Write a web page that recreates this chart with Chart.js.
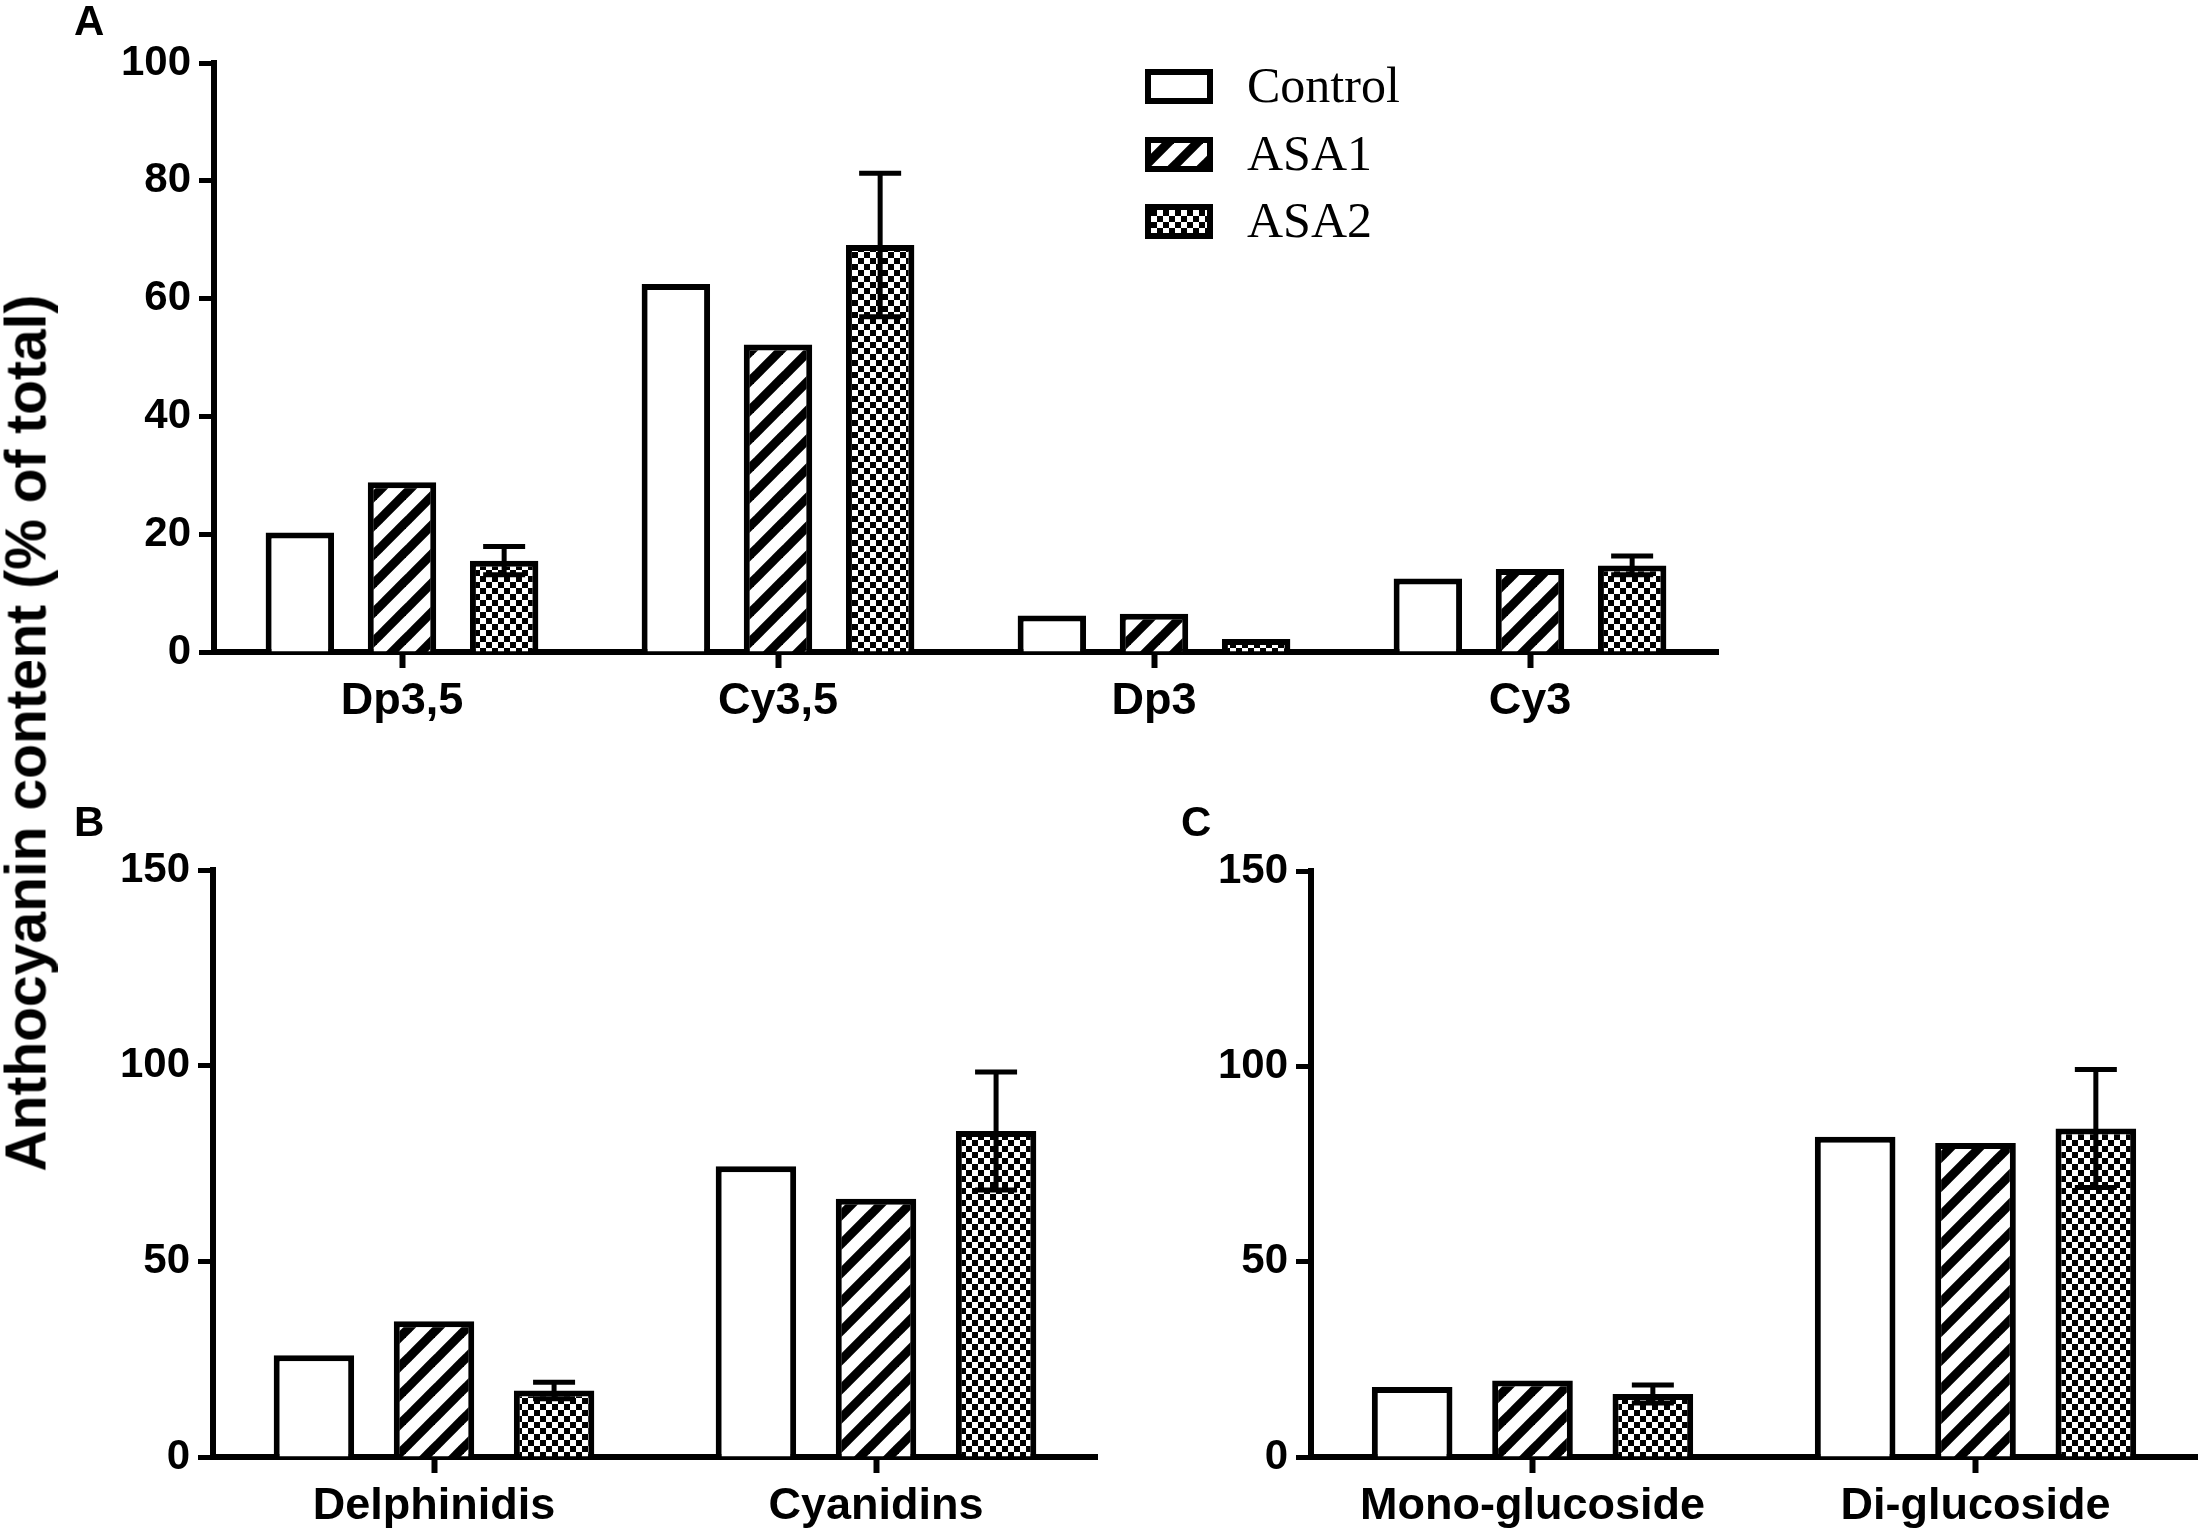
<!DOCTYPE html>
<html><head><meta charset="utf-8">
<script src="https://cdn.jsdelivr.net/npm/chart.js@4.4.1/dist/chart.umd.min.js"></script>
<style>
html,body{margin:0;padding:0;background:#fff;}
body{width:2205px;height:1536px;position:relative;overflow:hidden;font-family:"Liberation Sans",Arial,sans-serif;color:#000;}
canvas.chart{position:absolute;}
.pl{position:absolute;font-weight:bold;font-size:42px;line-height:42px;}
#ytitle{position:absolute;left:26px;top:733px;transform:translate(-50%,-50%) rotate(-90deg);font-weight:bold;font-size:57px;line-height:57px;white-space:nowrap;}
.lg-sw{position:absolute;}
.lg-tx{position:absolute;font-family:"Liberation Serif","Times New Roman",serif;font-size:50px;line-height:50px;white-space:nowrap;}
</style>
</head><body>
<canvas id="cA" class="chart"></canvas>
<canvas id="cB" class="chart"></canvas>
<canvas id="cC" class="chart"></canvas>
<div class="pl" style="left:74px;top:0px;">A</div>
<div class="pl" style="left:74px;top:801px;">B</div>
<div class="pl" style="left:1181px;top:801px;">C</div>
<div id="ytitle">Anthocyanin content (% of total)</div>
<div id="legend"></div>
<script>
// ---------- data ----------
const seriesNames = ['Control', 'ASA1', 'ASA2'];

const catsA = ['Dp3,5', 'Cy3,5', 'Dp3', 'Cy3'];
const controlA = [20.3, 62.5, 6.2, 12.5];
const asa1A = [28.8, 52.2, 6.5, 14.1];
const asa2A = [15.5, 69.1, 2.2, 14.7];
const asa2ErrA = [2.4, 12.2, 0, 1.6];
const yTicksA = [0, 20, 40, 60, 80, 100];

const catsB = ['Delphinidis', 'Cyanidins'];
const controlB = [26.0, 74.3];
const asa1B = [34.7, 66.0];
const asa2B = [17.0, 83.3];
const asa2ErrB = [2.1, 15.1];
const yTicksB = [0, 50, 100, 150];

const catsC = ['Mono-glucoside', 'Di-glucoside'];
const controlC = [17.9, 82.0];
const asa1C = [19.6, 80.4];
const asa2C = [16.1, 84.1];
const asa2ErrC = [2.3, 15.1];
const yTicksC = [0, 50, 100, 150];

// ---------- patterns ----------
function hatchTile() {
  const s = 29, c = document.createElement('canvas');
  c.width = s; c.height = s;
  const g = c.getContext('2d');
  g.fillStyle = '#fff'; g.fillRect(0, 0, s, s);
  g.strokeStyle = '#000'; g.lineWidth = 9; g.lineCap = 'butt';
  for (let k = -1; k <= 1; k++) {
    g.beginPath(); g.moveTo(k * s - 3, s + 3); g.lineTo(k * s + s + 3, -3); g.stroke();
  }
  return c;
}
function checkerTile() {
  const s = 12, h = 6, c = document.createElement('canvas');
  c.width = s; c.height = s;
  const g = c.getContext('2d');
  g.fillStyle = '#fff'; g.fillRect(0, 0, s, s);
  g.fillStyle = '#000'; g.fillRect(0, 0, h, h); g.fillRect(h, h, h, h);
  return c;
}
const tmpCtx = document.createElement('canvas').getContext('2d');
const fills = ['#ffffff', tmpCtx.createPattern(hatchTile(), 'repeat'), tmpCtx.createPattern(checkerTile(), 'repeat')];

// ---------- error bar plugin ----------
const errorBars = {
  id: 'errorBars',
  afterDatasetsDraw(chart) {
    const ctx = chart.ctx, y = chart.scales.y;
    chart.data.datasets.forEach((ds, di) => {
      if (!ds.errors) return;
      const meta = chart.getDatasetMeta(di);
      meta.data.forEach((bar, i) => {
        const e = ds.errors[i];
        if (!e) return;
        const v = ds.data[i];
        const yt = y.getPixelForValue(v + e), yb = y.getPixelForValue(v - e);
        const x = bar.x, hw = 21;
        ctx.save();
        ctx.strokeStyle = '#000'; ctx.lineWidth = 5; ctx.lineCap = 'butt';
        ctx.beginPath();
        ctx.moveTo(x, yt); ctx.lineTo(x, yb);
        ctx.moveTo(x - hw, yt); ctx.lineTo(x + hw, yt);
        ctx.moveTo(x - hw, yb); ctx.lineTo(x + hw, yb);
        ctx.stroke();
        ctx.restore();
      });
    });
  }
};

const FONT = '"Liberation Sans", Arial, sans-serif';

function makeChart(id, cats, ctrl, a1, a2, err, yTicks, box) {
  const cv = document.getElementById(id);
  cv.width = box.width; cv.height = box.height;
  cv.style.left = box.left + 'px'; cv.style.top = box.top + 'px';
  cv.style.width = box.width + 'px'; cv.style.height = box.height + 'px';
  const vals = [ctrl, a1, a2];
  const datasets = seriesNames.map((n, i) => ({
    label: n,
    data: vals[i],
    errors: i === 2 ? err : null,
    backgroundColor: fills[i],
    borderColor: '#000',
    borderWidth: 6,
    borderSkipped: 'start',
    categoryPercentage: 0.815,
    barPercentage: 0.67
  }));
  const yMax = yTicks[yTicks.length - 1];
  return new Chart(cv, {
    type: 'bar',
    data: { labels: cats, datasets },
    options: {
      responsive: false,
      animation: false,
      devicePixelRatio: 1,
      layout: { padding: { top: box.areaTop - box.top, right: box.left + box.width - box.areaRight, left: 0, bottom: 0 } },
      plugins: { legend: { display: false }, tooltip: { enabled: false } },
      scales: {
        x: {
          z: 1,
          offset: true,
          grid: { display: true, drawOnChartArea: false, drawTicks: true, offset: false, tickLength: 16, tickWidth: 6, tickColor: '#000' },
          border: { display: true, width: 6, color: '#000' },
          ticks: { color: '#000', font: { family: FONT, size: 45, weight: 'bold' }, padding: 7, maxRotation: 0 },
          afterFit(s) { s.height = box.top + box.height - box.areaBottom; }
        },
        y: {
          z: 1,
          min: 0, max: yMax,
          afterBuildTicks(s) { s.ticks = yTicks.map(v => ({ value: v })); },
          grid: { display: true, drawOnChartArea: false, drawTicks: true, tickLength: 15, tickWidth: 5, tickColor: '#000' },
          border: { display: true, width: 6, color: '#000' },
          ticks: { color: '#000', font: { family: FONT, size: 42, weight: 'bold' }, padding: 8 },
          afterFit(s) { s.width = box.areaLeft - box.left; }
        }
      }
    },
    plugins: [errorBars]
  });
}

makeChart('cA', catsA, controlA, asa1A, asa2A, asa2ErrA, yTicksA,
  { left: 0, top: 0, width: 1740, height: 760, areaLeft: 214, areaTop: 63, areaRight: 1718, areaBottom: 652 });
makeChart('cB', catsB, controlB, asa1B, asa2B, asa2ErrB, yTicksB,
  { left: 0, top: 780, width: 1110, height: 756, areaLeft: 213, areaTop: 870, areaRight: 1097, areaBottom: 1457 });
makeChart('cC', catsC, controlC, asa1C, asa2C, asa2ErrC, yTicksC,
  { left: 1100, top: 780, width: 1105, height: 756, areaLeft: 1311, areaTop: 871, areaRight: 2197, areaBottom: 1457 });

// ---------- legend ----------
const legend = document.getElementById('legend');
seriesNames.forEach((n, i) => {
  const top = 69 + i * 67.5;
  const sw = document.createElement('canvas');
  sw.className = 'lg-sw';
  sw.width = 68; sw.height = 35;
  sw.style.left = '1145px'; sw.style.top = top + 'px';
  const g = sw.getContext('2d');
  g.fillStyle = fills[i]; g.fillRect(0, 0, 68, 35);
  g.strokeStyle = '#000'; g.lineWidth = 6; g.strokeRect(3, 3, 62, 29);
  legend.appendChild(sw);
  const tx = document.createElement('div');
  tx.className = 'lg-tx';
  tx.textContent = n;
  tx.style.left = '1247px'; tx.style.top = (top - 9) + 'px';
  legend.appendChild(tx);
});
</script>
</body></html>
